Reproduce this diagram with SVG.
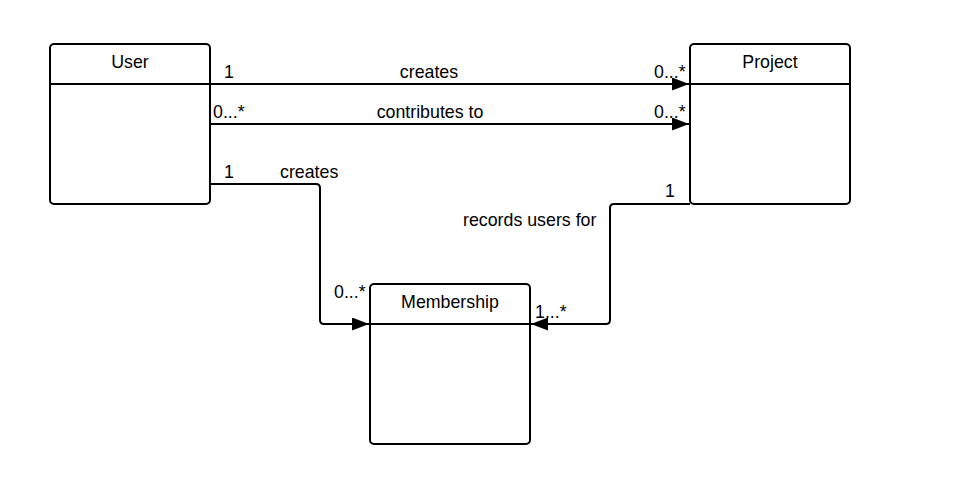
<svg xmlns="http://www.w3.org/2000/svg" width="973" height="503" viewBox="0 0 973 503">
<style>
.box{fill:#fff;stroke:#000;stroke-width:2}
.div{stroke:#000;stroke-width:2}
.t{font-family:"Liberation Sans",Arial,sans-serif;font-size:17.8px;fill:#000}
.c{stroke:#000;stroke-width:2;fill:none}
</style>
<defs>
<marker id="arr" markerWidth="17" markerHeight="13" refX="17" refY="6.5" orient="auto" markerUnits="userSpaceOnUse">
<path d="M0,0 L17,6.5 L0,13 Z" fill="#000"/>
</marker>
</defs>
<rect width="973" height="503" fill="#fff"/>
<g id="connectors">
<path class="c" d="M210,84 H689" marker-end="url(#arr)"/>
<path class="c" d="M210,124 H689" marker-end="url(#arr)"/>
<path class="c" d="M210,184 H316 Q320,184 320,188 V320 Q320,324 324,324 H369" marker-end="url(#arr)"/>
<path class="c" d="M690,204 H614 Q610,204 610,208 V320 Q610,324 606,324 H531" marker-end="url(#arr)"/>
<text class="t" x="224" y="78">1</text>
<text class="t" x="429" y="78" text-anchor="middle">creates</text>
<text class="t" x="654" y="78">0...*</text>
<text class="t" x="213" y="118">0...*</text>
<text class="t" x="430" y="118" text-anchor="middle">contributes to</text>
<text class="t" x="654" y="118">0...*</text>
<text class="t" x="224" y="178">1</text>
<text class="t" x="280" y="178">creates</text>
<text class="t" x="463" y="226">records users for</text>
<text class="t" x="665" y="197">1</text>
<text class="t" x="334" y="298">0...*</text>
<text class="t" x="535" y="318">1...*</text>
</g>
<g id="user">
<rect class="box" x="50" y="44" width="160" height="160" rx="4"/>
<line class="div" x1="50" y1="84" x2="210" y2="84"/>
<text class="t" x="130" y="68" text-anchor="middle">User</text>
</g>
<g id="project">
<rect class="box" x="690" y="44" width="160" height="160" rx="4"/>
<line class="div" x1="690" y1="84" x2="850" y2="84"/>
<text class="t" x="770" y="68" text-anchor="middle">Project</text>
</g>
<g id="membership">
<rect class="box" x="370" y="284" width="160" height="160" rx="4"/>
<line class="div" x1="370" y1="324" x2="530" y2="324"/>
<text class="t" x="450" y="308" text-anchor="middle">Membership</text>
</g>
</svg>
